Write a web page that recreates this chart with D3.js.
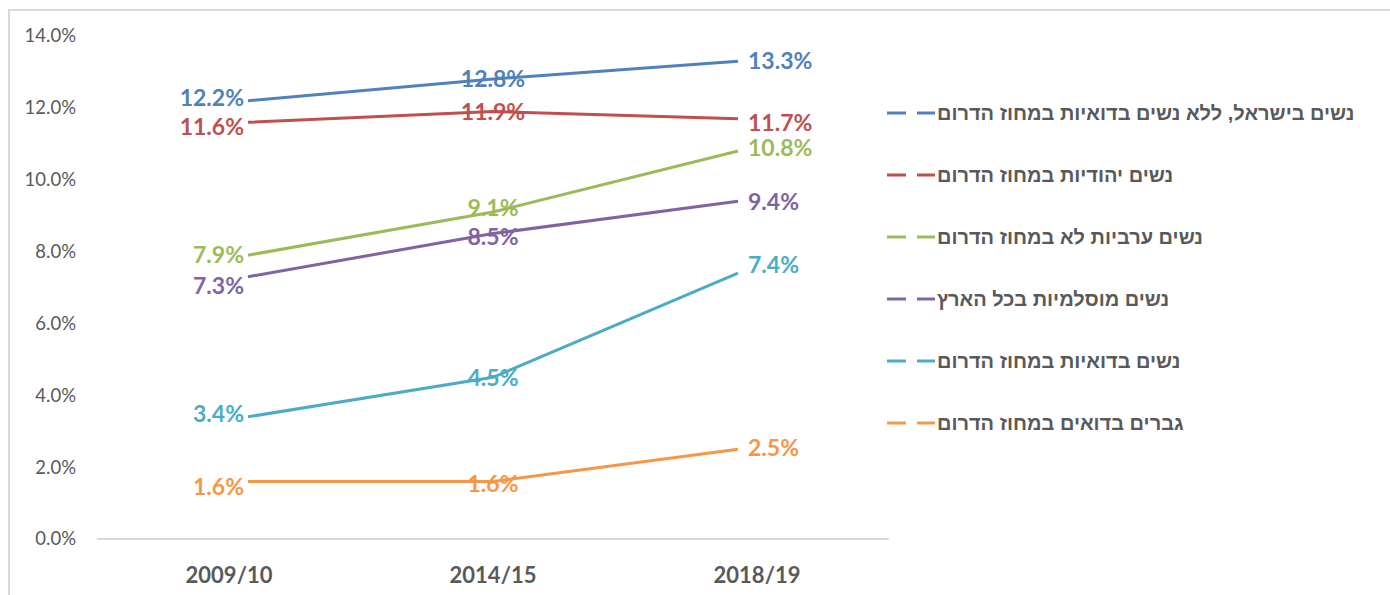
<!DOCTYPE html>
<html lang="he">
  <head>
    <meta charset="UTF-8">
    <title>chart</title>
    <script src="https://cdn.jsdelivr.net/npm/d3@7"></script>
    <style>
      html, body { margin: 0; padding: 0; background: #fff; }
      svg { display: block; }
      .ytick { font-family: 'Lato', 'Liberation Sans', sans-serif; font-size: 18.5px; fill: #595959; }
      .xtick { font-family: 'Lato', 'Liberation Sans', sans-serif; font-size: 22px; font-weight: bold; fill: #595959; }
      .dlabel { font-family: 'Lato', 'Liberation Sans', sans-serif; font-size: 23px; font-weight: bold; }
      .legend-text { font-family: 'Liberation Sans', 'DejaVu Sans', sans-serif; font-size: 20px; font-weight: bold; fill: #595959; }
    </style>
  </head>
  <body>
    <script>
      const categories = ['2009/10', '2014/15', '2018/19'];
      const seriesNames = [
        'נשים בישראל, ללא נשים בדואיות במחוז הדרום',
        'נשים יהודיות במחוז הדרום',
        'נשים ערביות לא במחוז הדרום',
        'נשים מוסלמיות בכל הארץ',
        'נשים בדואיות במחוז הדרום',
        'גברים בדואים במחוז הדרום'
      ];
      const israelNoBedouin = [12.2, 12.8, 13.3];
      const jewishSouth = [11.6, 11.9, 11.7];
      const arabNotSouth = [7.9, 9.1, 10.8];
      const muslimAll = [7.3, 8.5, 9.4];
      const bedouinWomen = [3.4, 4.5, 7.4];
      const bedouinMen = [1.6, 1.6, 2.5];
      const yTicks = [0, 2, 4, 6, 8, 10, 12, 14];
      const colors = ['#4f81bd', '#c0504d', '#9bbb59', '#8064a2', '#4bacc6', '#f79646'];

      // vertical nudge of data labels (px) so they do not collide, per series: [first, middle, last]
      const labelNudge = [[-3, 0, 0], [4, 0, 4], [0, -4, -3], [9, 3, 0], [-3, 0, -8], [5, 2, -1]];

      const allValues = [israelNoBedouin, jewishSouth, arabNotSouth, muslimAll, bedouinWomen, bedouinMen];
      const series = seriesNames.map((name, i) => ({ name, values: allValues[i], color: colors[i], nudge: labelNudge[i] }));

      const W = 1390, H = 595;
      const svg = d3.select('body').append('svg').attr('width', W).attr('height', H);

      // chart frame
      svg.append('path')
        .attr('d', `M9,${H} L9,10 L${W},10`)
        .attr('fill', 'none')
        .attr('stroke', '#d9d9d9')
        .attr('stroke-width', 2);

      const y = d3.scaleLinear().domain([0, 14]).range([539, 36]);
      const xBand = d3.scaleBand().domain(categories).range([97, 889]);
      const xPoint = d3.scalePoint().domain(categories).range([248, 738]);

      // y axis labels
      svg.append('g').selectAll('text')
        .data(yTicks)
        .enter()
        .append('text')
        .attr('class', 'ytick')
        .attr('x', 76)
        .attr('y', d => y(d))
        .attr('dy', '0.35em')
        .attr('text-anchor', 'end')
        .text(d => d3.format('.1f')(d) + '%');

      // x axis baseline
      svg.append('line')
        .attr('x1', xBand.range()[0])
        .attr('x2', xBand.range()[1])
        .attr('y1', y(0))
        .attr('y2', y(0))
        .attr('stroke', '#d9d9d9')
        .attr('stroke-width', 2);

      svg.append('g').selectAll('text')
        .data(categories)
        .enter()
        .append('text')
        .attr('class', 'xtick')
        .attr('x', d => xBand(d) + xBand.bandwidth() / 2)
        .attr('y', 583)
        .attr('text-anchor', 'middle')
        .text(d => d);

      const line = d3.line()
        .x((d, i) => xPoint(categories[i]))
        .y(d => y(d));

      svg.append('g').selectAll('path')
        .data(series)
        .enter()
        .append('path')
        .attr('d', d => line(d.values))
        .attr('fill', 'none')
        .attr('stroke', d => d.color)
        .attr('stroke-width', 3);

      // data labels: left of first point, centred on middle, right of last
      const labelGroup = svg.append('g');
      series.forEach(s => {
        s.values.forEach((v, i) => {
          const px = xPoint(categories[i]);
          let anchor = 'middle', dx = 0;
          if (i === 0) { anchor = 'end'; dx = -4; }
          if (i === 2) { anchor = 'start'; dx = 10; }
          labelGroup.append('text')
            .attr('class', 'dlabel')
            .attr('x', px + dx)
            .attr('y', y(v) + s.nudge[i])
            .attr('dy', '0.36em')
            .attr('text-anchor', anchor)
            .attr('fill', s.color)
            .text(d3.format('.1f')(v) + '%');
        });
      });

      // legend
      const legendY = d3.scalePoint().domain(seriesNames).range([113, 423]);
      const legend = svg.append('g').selectAll('g')
        .data(series)
        .enter()
        .append('g')
        .attr('transform', d => `translate(0, ${legendY(d.name)})`);

      legend.append('line')
        .attr('x1', 887).attr('x2', 906)
        .attr('y1', 0).attr('y2', 0)
        .attr('stroke', d => d.color)
        .attr('stroke-width', 3);
      legend.append('line')
        .attr('x1', 917).attr('x2', 935)
        .attr('y1', 0).attr('y2', 0)
        .attr('stroke', d => d.color)
        .attr('stroke-width', 3);
      legend.append('text')
        .attr('class', 'legend-text')
        .attr('x', 937)
        .attr('y', 0)
        .attr('dy', '0.35em')
        .attr('direction', 'rtl')
        .attr('text-anchor', 'end')
        .text(d => d.name);
    </script>
  </body>
</html>
